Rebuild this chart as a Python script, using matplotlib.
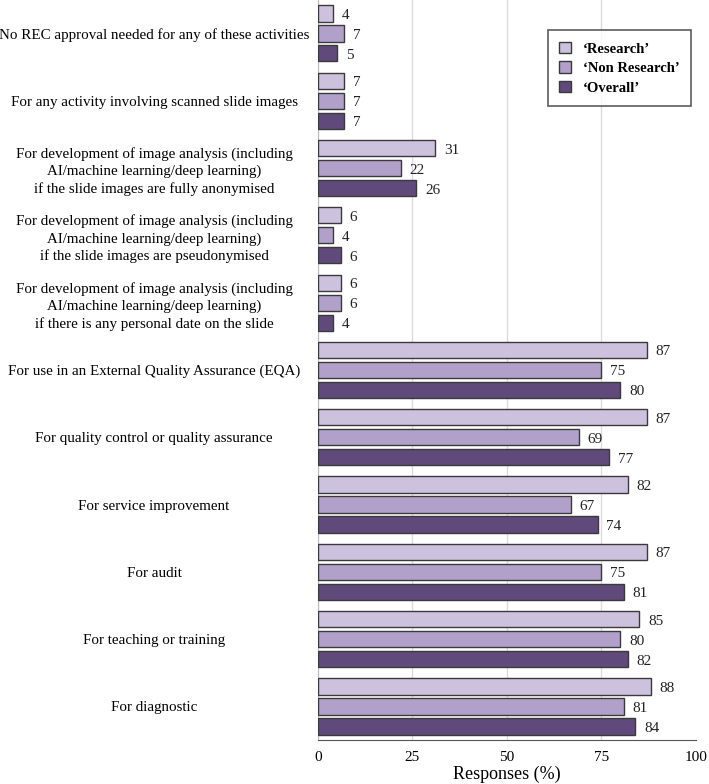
import matplotlib.pyplot as plt
import numpy as np

plt.rcParams['font.family'] = ['Liberation Serif', 'DejaVu Serif']

categories = [
    'No REC approval needed for any of these activities',
    'For any activity involving scanned slide images',
    'For development of image analysis (including\nAI/machine learning/deep learning)\nif the slide images are fully anonymised',
    'For development of image analysis (including\nAI/machine learning/deep learning)\nif the slide images are pseudonymised',
    'For development of image analysis (including\nAI/machine learning/deep learning)\nif there is any personal date on the slide',
    'For use in an External Quality Assurance (EQA)',
    'For quality control or quality assurance',
    'For service improvement',
    'For audit',
    'For teaching or training',
    'For diagnostic',
]
research = [4, 7, 31, 6, 6, 87, 87, 82, 87, 85, 88]
non_research = [7, 7, 22, 4, 6, 75, 69, 67, 75, 80, 81]
overall = [5, 7, 26, 6, 4, 80, 77, 74, 81, 82, 84]
series_names = ["\u2018Research\u2019", "\u2018Non Research\u2019", "\u2018Overall\u2019"]
colors = ['#cdc2de', '#b1a0c9', '#604a7b']

fig = plt.figure(figsize=(7.09, 7.84), dpi=100)
ax = fig.add_axes([0.4485, 0.056, 0.533, 0.946])

y = np.arange(len(categories))
offs = [-0.297, 0, 0.297]
h = 0.24
for vals, off, col, name in zip([research, non_research, overall], offs, colors, series_names):
    bars = ax.barh(y + off, vals, height=h, color=col, edgecolor='#3a3a3a',
                   linewidth=1.0, label=name, zorder=3)
    for b, v in zip(bars, vals):
        ax.text(b.get_width() + 2.3, b.get_y() + b.get_height() / 2 + 0.03, str(v),
                ha='left', va='center', fontsize=11, color='#222222')

ax.set_yticks(y)
ax.set_yticklabels(categories, fontsize=10.8, ha='center', linespacing=1.38)
ax.tick_params(axis='y', length=0, pad=118)
ax.set_ylim(len(categories) - 0.5, -0.52)

ax.set_xlim(0, 100)
ax.set_xticks([0, 25, 50, 75, 100])
ax.tick_params(axis='x', length=0, labelsize=11, pad=8)
ax.xaxis.grid(True, color='#dcdcdc', linewidth=1.0, zorder=0)
ax.xaxis.get_gridlines()[-1].set_visible(False)
ax.set_xlabel('Responses (%)', fontsize=13, labelpad=1)

for s in ['top', 'right']:
    ax.spines[s].set_visible(False)
ax.spines['left'].set_color('#bdbdbd')
ax.spines['bottom'].set_color('#555555')

leg = ax.legend(loc='upper right', bbox_to_anchor=(0.987, 0.957), borderaxespad=0,
                fancybox=False, edgecolor='#333333', prop={'weight': 'bold', 'size': 10.5},
                handlelength=0.8, handleheight=0.8, borderpad=0.8, labelspacing=0.4,
                handletextpad=0.8)
leg.get_frame().set_linewidth(1.2)

fig.savefig('out.png', dpi=100)
